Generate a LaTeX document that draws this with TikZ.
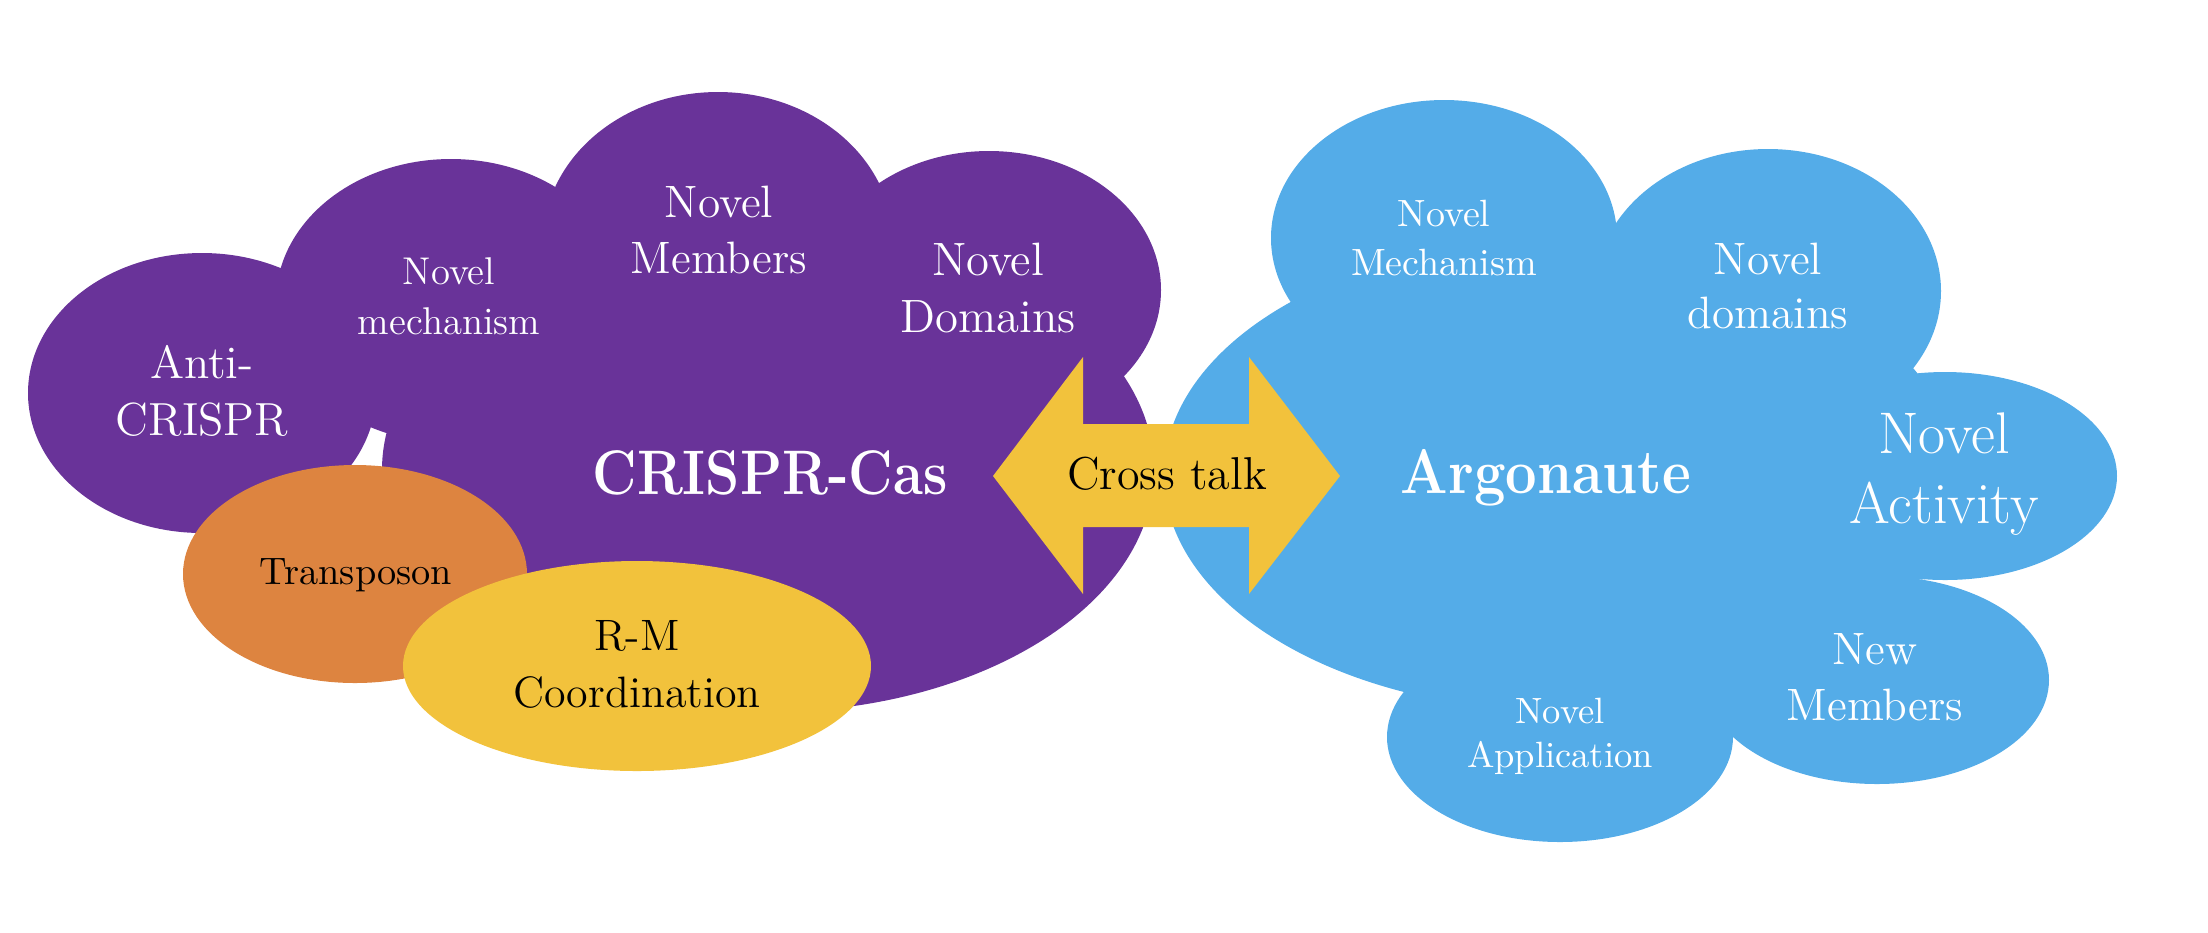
\documentclass[tikz,border=0pt]{standalone}
\definecolor{casPurple}{RGB}{105,51,153}
\definecolor{agoBlue}{RGB}{84,172,232}
\definecolor{tnOrange}{RGB}{221,132,64}
\definecolor{talkYellow}{RGB}{242,194,60}
\begin{document}
\begin{tikzpicture}[x=0.01cm, y=-0.01cm,
    every node/.style={align=center, inner sep=0pt},
    wtxt/.style 2 args={text=white, font=\fontsize{#1}{#2}\selectfont},
    btxt/.style 2 args={text=black, font=\fontsize{#1}{#2}\selectfont}]
    \useasboundingbox (0,0) rectangle (2208,932);

    \path[fill=casPurple] (768,470) ellipse [x radius=386, y radius=242]
                (202,393) ellipse [x radius=174, y radius=140]
                (451,301) ellipse [x radius=175, y radius=142]
                (718,242) ellipse [x radius=175, y radius=150]
                (989,290) ellipse [x radius=172, y radius=139];

    \path[fill=tnOrange] (355,574) ellipse [x radius=172, y radius=109];
    \path[fill=talkYellow] (637,666) ellipse [x radius=234, y radius=105];

    \path[fill=agoBlue] (1560,475) ellipse [x radius=396, y radius=236]
                (1444,238) ellipse [x radius=173, y radius=138]
                (1768,291) ellipse [x radius=173, y radius=142]
                (1945,476) ellipse [x radius=172, y radius=104]
                (1877,680) ellipse [x radius=172, y radius=104]
                (1560,737) ellipse [x radius=173, y radius=105];

    \path[fill=talkYellow] (993,476) -- (1083,357) -- (1083,424) -- (1249,424)
                -- (1249,357) -- (1340,476) -- (1249,594) -- (1249,527)
                -- (1083,527) -- (1083,594) -- cycle;

    \node[wtxt={13.2}{16.2}] (anti) at (202,391) {Anti-\\CRISPR};
    \node[wtxt={11}{14.2}] (mech) at (449,296) {Novel\\mechanism};
    \node[wtxt={12.9}{16}] (memb) at (719,230) {Novel\\Members};
    \node[wtxt={13.3}{16}] (doms) at (988,288) {Novel\\Domains};
    \node[wtxt={17.9}{20}, font=\fontsize{17.9}{20}\selectfont\bfseries] (cas) at (770,473) {\scalebox{0.87}[1]{CRISPR-Cas}};
    \node[btxt={10.9}{13}] (tn) at (356,575) {Transposon};
    \node[btxt={12.5}{16.2}] (rm) at (637,664) {R-M\\Coordination};
    \node[btxt={13.1}{15}] (talk) at (1167,474) {Cross talk};

    \node[wtxt={17.9}{20}, font=\fontsize{17.9}{20}\selectfont\bfseries] (ago) at (1546,478) {\scalebox{0.89}[1]{Argonaute}};
    \node[wtxt={10.8}{14.2}] (amech) at (1444,238) {Novel\\Mechanism};
    \node[wtxt={12.9}{15.6}] (adoms) at (1768,286) {Novel\\domains};
    \node[wtxt={16.7}{19.9}] (act) at (1944,474) {Novel\\Activity};
    \node[wtxt={12.9}{15.9}] (newm) at (1875,677) {New\\Members};
    \node[wtxt={10.4}{12.5}] (app) at (1560,736) {Novel\\Application};
\end{tikzpicture}
\end{document}
